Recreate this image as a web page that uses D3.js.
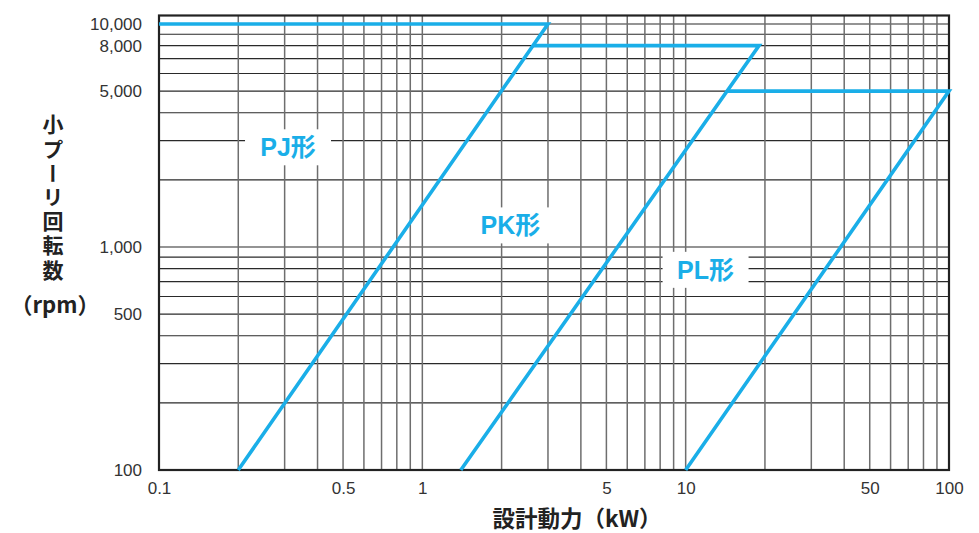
<!DOCTYPE html>
<html>
<head>
<meta charset="utf-8">
<script src="https://cdn.jsdelivr.net/npm/d3@7"></script>
<style>
  html, body { margin: 0; padding: 0; background: #fff; }
  svg { display: block; }
</style>
</head>
<body>
<svg id="chart" width="979" height="533"></svg>
<script>
// ---- data ----
const xTickValues = [0.1, 0.5, 1, 5, 10, 50, 100];
const xTickLabels = ["0.1", "0.5", "1", "5", "10", "50", "100"];
const yTickValues = [100, 500, 1000, 5000, 8000, 10000];
const yTickLabels = ["100", "500", "1,000", "5,000", "8,000", "10,000"];

const seriesNames = ["PJ形", "PK形", "PL形"];
const pjKW  = [0.1, 3.0, 0.2];
const pjRPM = [10000, 10000, 100];
const pkKW  = [2.63, 19, 1.4];
const pkRPM = [8000, 8000, 100];
const plKW  = [14.4, 100, 10];
const plRPM = [5000, 5000, 100];
const labelKW  = [0.309, 2.16, 11.9];
const labelRPM = [2800, 1250, 790];

const xTitle = "設計動力（kW）";
const yTitleV = "小プーリ回転数";
const yTitleUnit = "（rpm）";

// ---- layout ----
const mLeft = 159, mRight = 949, mTop = 15.5, mBottom = 470;
const blue = "#1aaee8";

const svg = d3.select("#chart");
const x = d3.scaleLog().domain([0.1, 100]).range([mLeft, mRight]);
const y = d3.scaleLog().domain([100, 10920]).range([mBottom, mTop]);

// grid
const xGrid = x.ticks().filter(v => v > 0.1 && v < 100);
const yGrid = y.ticks().filter(v => v > 100 && v <= 10000);

svg.append("g").selectAll("line").data(yGrid).join("line")
  .attr("x1", mLeft).attr("x2", mRight)
  .attr("y1", d => y(d)).attr("y2", d => y(d))
  .attr("stroke", "#2a2a2a").attr("stroke-width", 1.2);

svg.append("g").selectAll("line").data(xGrid).join("line")
  .attr("x1", d => x(d)).attr("x2", d => x(d))
  .attr("y1", mTop).attr("y2", mBottom)
  .attr("stroke", "#6e6e6e").attr("stroke-width", 1.5);

// frame
svg.append("rect")
  .attr("x", mLeft).attr("y", mTop)
  .attr("width", mRight - mLeft).attr("height", mBottom - mTop)
  .attr("fill", "none").attr("stroke", "#222").attr("stroke-width", 2.2);

// series lines
const seriesKW = [pjKW, pkKW, plKW];
const seriesRPM = [pjRPM, pkRPM, plRPM];
const line = d3.line().x(d => x(d[0])).y(d => y(d[1]));
seriesKW.forEach((kw, i) => {
  const pts = kw.map((v, j) => [v, seriesRPM[i][j]]);
  svg.append("path")
    .attr("d", line(pts))
    .attr("fill", "none")
    .attr("stroke", blue)
    .attr("stroke-width", 3.6)
    .attr("stroke-linejoin", "miter")
    .attr("stroke-linecap", "butt");
});

// series labels with white boxes
seriesNames.forEach((name, i) => {
  const cx = x(labelKW[i]), cy = y(labelRPM[i]);
  const g = svg.append("g");
  g.append("rect")
    .attr("x", cx - 43).attr("y", cy - 18)
    .attr("width", 86).attr("height", 36)
    .attr("fill", "#fff");
  g.append("text")
    .attr("x", cx).attr("y", cy)
    .attr("dy", "0.36em")
    .attr("text-anchor", "middle")
    .attr("font-family", "'Liberation Sans', 'Noto Sans CJK JP', sans-serif")
    .attr("font-weight", "bold")
    .attr("font-size", 25)
    .attr("fill", blue)
    .text(name);
});

// axes tick labels
const xAxis = d3.axisBottom(x).tickValues(xTickValues)
  .tickFormat((d, i) => xTickLabels[i]).tickSize(0).tickPadding(12);
const gx = svg.append("g").attr("transform", `translate(0,${mBottom})`).call(xAxis);
gx.select(".domain").remove();
gx.selectAll("text")
  .attr("font-family", "'Liberation Sans', Arial, sans-serif")
  .attr("font-size", 17).attr("fill", "#333");

const yAxis = d3.axisLeft(y).tickValues(yTickValues)
  .tickFormat((d, i) => yTickLabels[i]).tickSize(0).tickPadding(17);
const gy = svg.append("g").attr("transform", `translate(${mLeft},0)`).call(yAxis);
gy.select(".domain").remove();
gy.selectAll("text")
  .attr("font-family", "'Liberation Sans', Arial, sans-serif")
  .attr("font-size", 17).attr("fill", "#333");

// x title
svg.append("text")
  .attr("x", 577).attr("y", 527)
  .attr("text-anchor", "middle")
  .attr("font-family", "'Noto Sans CJK JP', sans-serif")
  .attr("font-weight", "bold")
  .attr("font-size", 22.5)
  .attr("fill", "#222")
  .text(xTitle);

// y title (vertical)
svg.append("text")
  .attr("x", 53).attr("y", 114)
  .attr("font-family", "'Noto Sans CJK JP', sans-serif")
  .attr("font-weight", "bold")
  .attr("font-size", 21)
  .attr("fill", "#222")
  .style("writing-mode", "vertical-rl")
  .style("letter-spacing", "3.2px")
  .text(yTitleV);

svg.append("text")
  .attr("x", 55).attr("y", 313)
  .attr("text-anchor", "middle")
  .attr("font-family", "'Noto Sans CJK JP', sans-serif")
  .attr("font-weight", "bold")
  .attr("font-size", 22)
  .attr("fill", "#222")
  .text(yTitleUnit);
</script>
</body>
</html>
